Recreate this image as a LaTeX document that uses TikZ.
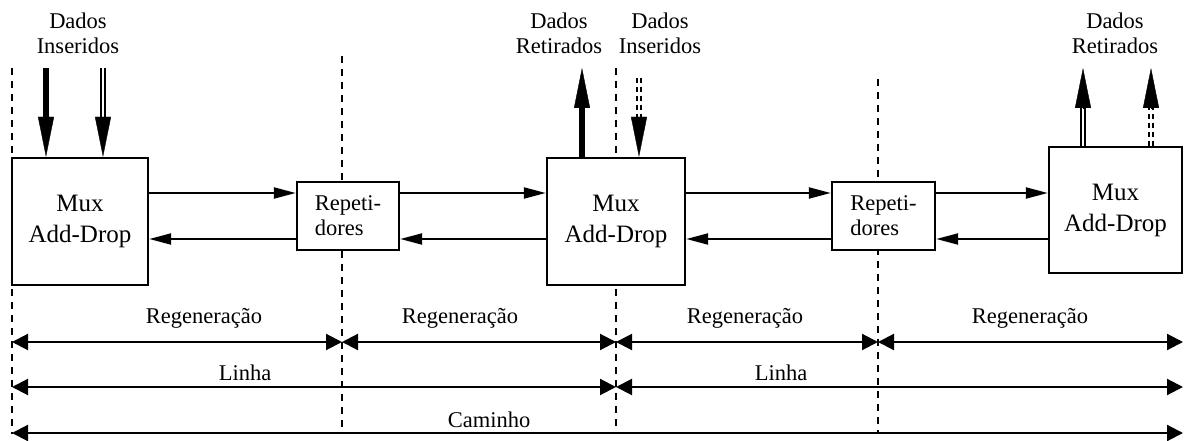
\documentclass[tikz,border=0pt]{standalone}
\usepackage{fontspec}
\setmainfont{Liberation Serif}
\usetikzlibrary{arrows.meta,calc}
\begin{document}
\begin{tikzpicture}[x=1pt,y=-1pt,
  box/.style={draw, line width=2.4pt, fill=white, inner sep=0pt},
  mux/.style={box, font=\fontsize{25}{31}\selectfont, align=center},
  rep/.style={box, font=\fontsize{22.5}{25}\selectfont, align=left,
              minimum width=102, minimum height=68},
  lbl/.style={font=\fontsize{22.5}{25}\selectfont, align=center, inner sep=0pt},
  guide/.style={line width=2.2pt, dash pattern=on 7pt off 6pt},
  link/.style={line width=2.1pt, -{Triangle[length=22pt,width=11pt]}},
  span/.style={line width=2.1pt,
               {Triangle[length=16pt,width=16pt]}-{Triangle[length=16pt,width=16pt]}},
  heavy/.style={line width=6pt},
  twin/.style={double, double distance=1.8pt, line width=2.3pt},
  twindash/.style={twin, dash pattern=on 5pt off 4pt},
  head/.style={line width=0.4pt, -{Triangle[length=40pt,width=16pt]}}]
\useasboundingbox (0,0) rectangle (1184,441);

% dashed section boundaries
\coordinate (g0t) at (12,68);   \coordinate (g0b) at (12,434);
\coordinate (g1t) at (342,56);  \coordinate (g1b) at (342,434);
\coordinate (g2t) at (616,68);  \coordinate (g2b) at (616,434);
\coordinate (g3t) at (878,79);  \coordinate (g3b) at (878,434);
\draw[guide] (g0t) -- (g0b);
\draw[guide] (g1t) -- (g1b);
\draw[guide] (g2t) -- (g2b);
\draw[guide] (g3t) -- (g3b);

% multiplexers and repeaters
\node[mux, minimum width=136, minimum height=127] (m1) at (80,221.5) {Mux\\Add-Drop};
\node[mux, minimum width=138, minimum height=127] (m2) at (616,221.5) {Mux\\Add-Drop};
\node[mux, minimum width=133, minimum height=126] (m3) at (1115.5,210) {Mux\\Add-Drop};
\node[rep] (r1) at (348,216) {Repeti-\\dores};
\node[rep, minimum width=103] (r2) at (883.5,216) {Repeti-\\dores};

% forward and return links
\coordinate (hi) at (0,193);
\coordinate (lo) at (0,239);
\draw[link] (m1.east |- hi) -- (r1.west |- hi);
\draw[link] (r1.west |- lo) -- (m1.east |- lo);
\draw[link] (r1.east |- hi) -- (m2.west |- hi);
\draw[link] (m2.west |- lo) -- (r1.east |- lo);
\draw[link] (m2.east |- hi) -- (r2.west |- hi);
\draw[link] (r2.west |- lo) -- (m2.east |- lo);
\draw[link] (r2.east |- hi) -- (m3.west |- hi);
\draw[link] (m3.west |- lo) -- (r2.east |- lo);

% add / drop arrows
\coordinate (a1) at (46,68);
\draw[heavy] (a1) -- ($(m1.north -| a1)+(0,-39)$);
\draw[head] ($(m1.north -| a1)+(0,-40)$) -- (m1.north -| a1);

\coordinate (a2) at (103,68);
\draw[twin] (a2) -- ($(m1.north -| a2)+(0,-39)$);
\draw[head] ($(m1.north -| a2)+(0,-40)$) -- (m1.north -| a2);

\coordinate (a3) at (582,68);
\draw[heavy] (m2.north -| a3) -- ($(a3)+(0,39)$);
\draw[head] ($(a3)+(0,40)$) -- (a3);

\coordinate (a4) at (639,78);
\draw[twindash] (a4) -- ($(m2.north -| a4)+(0,-40)$);
\draw[head] ($(m2.north -| a4)+(0,-40)$) -- (m2.north -| a4);

\coordinate (a5) at (1083,68);
\draw[twin] (m3.north -| a5) -- ($(a5)+(0,39)$);
\draw[head] ($(a5)+(0,40)$) -- (a5);

\coordinate (a6) at (1151,68);
\draw[twindash] (m3.north -| a6) -- ($(a6)+(0,40)$);
\draw[head] ($(a6)+(0,40)$) -- (a6);

% top labels
\node[lbl] (t1) at (78,33) {Dados\\Inseridos};
\node[lbl] (t2) at (559,33) {Dados\\Retirados};
\node[lbl] (t3) at (660,33) {Dados\\Inseridos};
\node[lbl] (t4) at (1115,33) {Dados\\Retirados};

% spans
\coordinate (x0) at (12,0);
\coordinate (x1) at (342,0);
\coordinate (x2) at (616,0);
\coordinate (x3) at (878,0);
\coordinate (x4) at (1183,0);
\coordinate (ra) at (0,342);
\coordinate (rb) at (0,387);
\coordinate (rc) at (0,433);
\draw[span] (x0 |- ra) -- (x1 |- ra);
\draw[span] (x1 |- ra) -- (x2 |- ra);
\draw[span] (x2 |- ra) -- (x3 |- ra);
\draw[span] (x3 |- ra) -- (x4 |- ra);
\draw[span] (x0 |- rb) -- (x2 |- rb);
\draw[span] (x2 |- rb) -- (x4 |- rb);
\draw[span] (x0 |- rc) -- (x4 |- rc);

\node[lbl, anchor=base] (s1) at (204,323) {Regeneração};
\node[lbl, anchor=base] (s2) at (460,323) {Regeneração};
\node[lbl, anchor=base] (s3) at (745,323) {Regeneração};
\node[lbl, anchor=base] (s4) at (1030,323) {Regeneração};
\node[lbl, anchor=base] (l1) at (245,380) {Linha};
\node[lbl, anchor=base] (l2) at (781,380) {Linha};
\node[lbl, anchor=base] (c1) at (489,427) {Caminho};
\end{tikzpicture}
\end{document}
